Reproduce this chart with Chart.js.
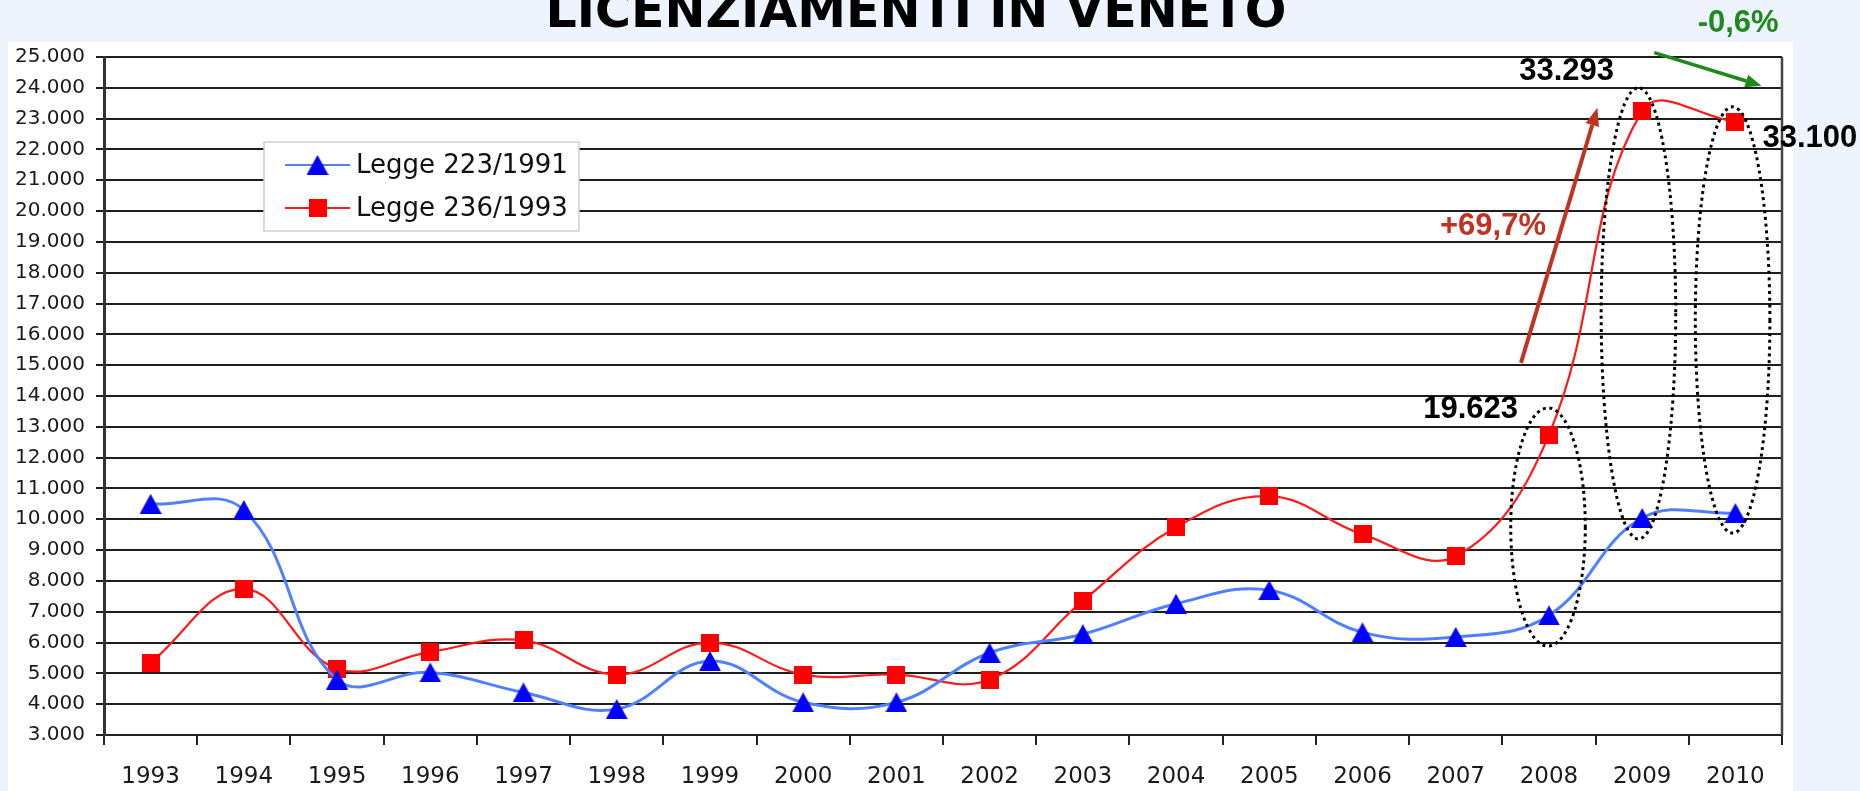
<!DOCTYPE html>
<html>
<head>
<meta charset="utf-8">
<script src="https://cdn.jsdelivr.net/npm/chart.js@4.4.1/dist/chart.umd.min.js"></script>
<style>
html,body{margin:0;padding:0;background:#EDF4FD;}
#wrap{position:relative;width:1860px;height:791px;overflow:hidden;}
canvas{display:block;}
</style>
</head>
<body>
<div id="wrap"><canvas id="c" width="1860" height="791"></canvas></div>
<script>
// ---- data ----
const years = ['1993','1994','1995','1996','1997','1998','1999','2000','2001','2002','2003','2004','2005','2006','2007','2008','2009','2010'];
const legge223 = [10500,10300,4800,5030,4380,3840,5400,4060,4060,5670,6270,7260,7700,6330,6180,6880,10040,10200];
const legge236 = [5350,7740,5150,5700,6070,4960,6000,4960,4960,4800,7350,9740,10750,9510,8800,12740,23250,22900];
const seriesNames = ['Legge 223/1991','Legge 236/1993'];
const yMin = 3000, yMax = 25000, yStep = 1000;
const titleText = 'LICENZIAMENTI IN VENETO';
const totalLabels = ['19.623','33.293','33.100'];
const changeLabels = ['+69,7%','-0,6%'];

// ---- marker images ----
function makeTriangle(color){
  const c = document.createElement('canvas'); c.width = 22; c.height = 20;
  const g = c.getContext('2d'); g.fillStyle = color;
  g.beginPath(); g.moveTo(11,0); g.lineTo(22,20); g.lineTo(0,20); g.closePath(); g.fill();
  return c;
}
function makeSquare(color){
  const c = document.createElement('canvas'); c.width = 18; c.height = 18;
  const g = c.getContext('2d'); g.fillStyle = color; g.fillRect(0,0,18,18);
  return c;
}
const triImg = makeTriangle('#0000FF');
const sqImg = makeSquare('#FF0000');

function fmt(v){ return String(v).replace(/\B(?=(\d{3})+(?!\d))/g,'.'); }

function arrow(ctx,x1,y1,x2,y2,color,lw,hl,hw){
  const a = Math.atan2(y2-y1,x2-x1);
  const bx = x2-hl*Math.cos(a), by = y2-hl*Math.sin(a);
  ctx.strokeStyle = color; ctx.lineWidth = lw; ctx.lineCap='butt';
  ctx.beginPath(); ctx.moveTo(x1,y1); ctx.lineTo(bx,by); ctx.stroke();
  ctx.fillStyle = color; ctx.beginPath(); ctx.moveTo(x2,y2);
  ctx.lineTo(bx+hw/2*Math.sin(a), by-hw/2*Math.cos(a));
  ctx.lineTo(bx-hw/2*Math.sin(a), by+hw/2*Math.cos(a));
  ctx.closePath(); ctx.fill();
}

const deco = {
  id:'deco',
  beforeDraw(chart){
    const ctx = chart.ctx;
    ctx.save();
    ctx.fillStyle = '#EDF4FD'; ctx.fillRect(0,0,chart.width,chart.height);
    ctx.fillStyle = '#FFFFFF'; ctx.fillRect(8,42,1785,749);
    ctx.restore();
  },
  afterDraw(chart){
    const ctx = chart.ctx, xs = chart.scales.x, ys = chart.scales.y, ca = chart.chartArea;
    const X = i => xs.getPixelForValue(i);
    const Y = v => ys.getPixelForValue(v);
    const cw = X(1)-X(0);
    ctx.save();
    // right border of plot
    ctx.strokeStyle = '#444'; ctx.lineWidth = 2.5;
    ctx.beginPath(); ctx.moveTo(ca.right, ca.top); ctx.lineTo(ca.right, ca.bottom); ctx.stroke();

    // legend
    const lx = 264, ly = 142, lw = 315, lh = 89;
    ctx.fillStyle = '#fff'; ctx.fillRect(lx,ly,lw,lh);
    ctx.strokeStyle = '#cfcfcf'; ctx.lineWidth = 1.5; ctx.strokeRect(lx,ly,lw,lh);
    chart.data.datasets.forEach((ds,k)=>{
      const yy = ly + 23 + k*43;
      ctx.strokeStyle = ds.borderColor; ctx.lineWidth = 2;
      ctx.beginPath(); ctx.moveTo(285,yy); ctx.lineTo(350,yy); ctx.stroke();
      const im = ds.pointStyle;
      ctx.drawImage(im, 317.5-im.width/2, yy-im.height/2);
      ctx.fillStyle = '#111'; ctx.font = '26px "DejaVu Sans"';
      ctx.textAlign = 'left'; ctx.textBaseline = 'middle';
      ctx.fillText(ds.label, 356, yy+1);
    });

    // dotted ellipses
    const ells = [{i:15-0.01, top:13614, bot:5886},{i:16-0.04, top:24003, bot:9361},{i:17-0.03, top:23383, bot:9552}];
    ctx.strokeStyle = '#000'; ctx.lineWidth = 3; ctx.setLineDash([3,3.7]);
    ells.forEach(e=>{
      const t = Y(e.top), b = Y(e.bot);
      ctx.beginPath(); ctx.ellipse(X(e.i), (t+b)/2, cw*0.40, (b-t)/2, 0, 0, Math.PI*2); ctx.stroke();
    });
    ctx.setLineDash([]);

    // arrows
    arrow(ctx, X(14.70), Y(15075), X(15.52), Y(23354), '#BF3420', 4, 18, 14);
    arrow(ctx, X(16.13), Y(25140), X(17.28), Y(24068), '#1E8A1E', 3.5, 16, 13);

    // annotation texts
    ctx.font = 'bold 31px "Liberation Sans"'; ctx.textBaseline = 'middle';
    ctx.fillStyle = '#000'; ctx.textAlign = 'center';
    ctx.fillText(totalLabels[0], X(14.16), Y(13549));
    ctx.fillText(totalLabels[1], X(15.19), Y(24523));
    ctx.textAlign = 'left';
    ctx.fillText(totalLabels[2], X(17.29), Y(22344));
    ctx.textAlign = 'center';
    ctx.fillStyle = '#BF3420';
    ctx.fillText(changeLabels[0], X(14.40), Y(19490));
    ctx.fillStyle = '#1E8A1E';
    ctx.fillText(changeLabels[1], X(17.03), Y(26081));

    // title
    ctx.fillStyle = '#000'; ctx.font = 'bold 49px "DejaVu Sans"';
    ctx.textAlign = 'center'; ctx.textBaseline = 'alphabetic';
    ctx.fillText(titleText, 916, 27);
    ctx.restore();
  }
};

new Chart(document.getElementById('c'), {
  type:'line',
  data:{
    labels: years,
    datasets:[
      {label: seriesNames[0], data: legge223, borderColor:'#4F80FF', borderWidth:3,
       pointStyle: triImg, pointRadius:10, tension:0.4, fill:false},
      {label: seriesNames[1], data: legge236, borderColor:'#FF1A1A', borderWidth:2.2,
       pointStyle: sqImg, pointRadius:10, tension:0.4, fill:false}
    ]
  },
  options:{
    responsive:false, devicePixelRatio:1, animation:false,
    layout:{padding:{left:0,right:78,top:57,bottom:0}},
    plugins:{legend:{display:false}, title:{display:false}, tooltip:{enabled:false}},
    scales:{
      x:{
        offset:true,
        grid:{display:true, drawOnChartArea:false, drawTicks:true, tickLength:10, color:'#222', lineWidth:2, offset:true},
        border:{display:true, color:'#222', width:2},
        ticks:{font:{family:'DejaVu Sans', size:23}, color:'#1a1a1a', padding:18, maxRotation:0, autoSkip:false},
        afterFit(s){ s.height = 56; }
      },
      y:{
        min:yMin, max:yMax,
        grid:{color:'#1e1e1e', lineWidth:2, drawTicks:true, tickLength:8, tickColor:'#1e1e1e'},
        border:{display:true, color:'#333', width:3},
        ticks:{stepSize:yStep, font:{family:'DejaVu Sans', size:20}, color:'#1a1a1a', padding:11,
               callback:(v)=>fmt(v)},
        afterFit(s){ s.width = 104; }
      }
    }
  },
  plugins:[deco]
});
</script>
</body>
</html>
